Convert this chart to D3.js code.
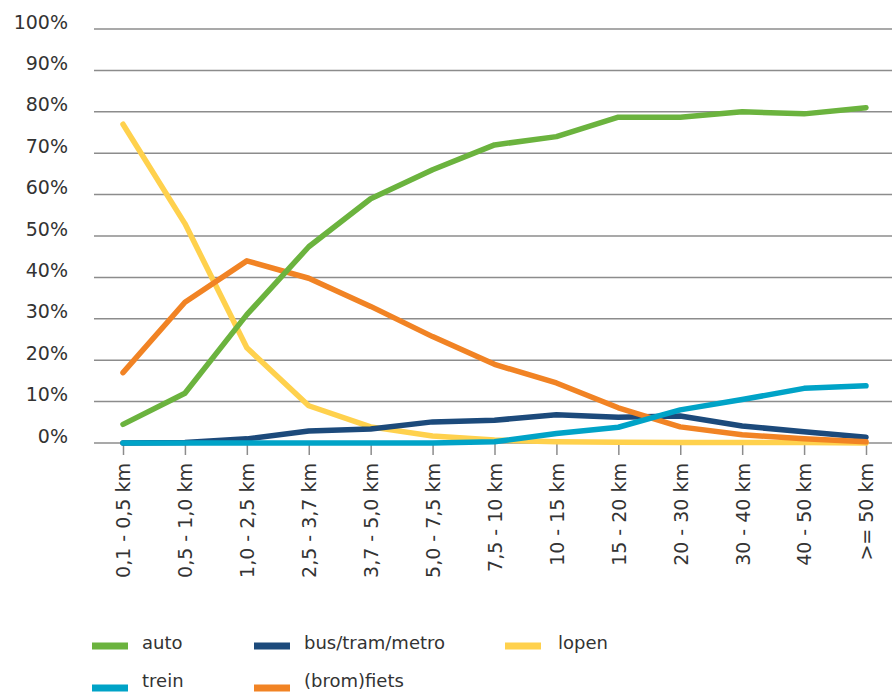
<!DOCTYPE html>
<html><head><meta charset="utf-8">
<script src="https://cdn.jsdelivr.net/npm/d3@7"></script>
<style>
body{margin:0;background:#fff;}
text{font-family:"DejaVu Sans",sans-serif;fill:#333;}
</style></head><body>
<svg id="c" width="892" height="693"></svg>
<script>
const categories = ["0,1 - 0,5 km","0,5 - 1,0 km","1,0 - 2,5 km","2,5 - 3,7 km","3,7 - 5,0 km","5,0 - 7,5 km","7,5 - 10 km","10 - 15 km","15 - 20 km","20 - 30 km","30 - 40 km","40 - 50 km",">= 50 km"];
const auto   = [4.5, 12, 31, 47.4, 59, 66, 72, 74, 78.7, 78.7, 80, 79.5, 81];
const bus    = [0, 0.1, 1, 2.9, 3.4, 5.1, 5.5, 6.8, 6.2, 6.5, 4.1, 2.7, 1.4];
const lopen  = [77, 53, 23, 9, 3.9, 1.7, 0.7, 0.3, 0.2, 0.1, 0.1, 0.1, 0];
const trein  = [0, 0, 0, 0, 0, 0, 0.3, 2.3, 3.8, 8, 10.5, 13.2, 13.8];
const fiets  = [17, 34, 44, 39.8, 33, 25.7, 19, 14.5, 8.5, 3.9, 2, 1, 0.3];
const yTicks = [0,10,20,30,40,50,60,70,80,90,100];

const series = [
  {name:"lopen", values:lopen, color:"#ffd14d"},
  {name:"bus/tram/metro", values:bus, color:"#1c4a7b"},
  {name:"(brom)fiets", values:fiets, color:"#f18324"},
  {name:"trein", values:trein, color:"#00a3c7"},
  {name:"auto", values:auto, color:"#6bb33e"}
];

const svg = d3.select("#c");
const x = d3.scalePoint().domain(categories).range([123, 866]);
const y = d3.scaleLinear().domain([0,100]).range([443, 29]);

// grid
svg.append("g").selectAll("line").data(yTicks).join("line")
  .attr("x1",94).attr("x2",892).attr("y1",d=>y(d)).attr("y2",d=>y(d))
  .attr("stroke","#8c8c8c").attr("stroke-width",1.5);
svg.append("g").selectAll("text").data(yTicks).join("text")
  .attr("x",68).attr("y",d=>y(d)-7).attr("dy","0.35em").attr("text-anchor","end")
  .attr("font-size",19).text(d=>d+"%");

// x axis
const xa = svg.append("g").attr("transform","translate(0,443)")
  .call(d3.axisBottom(x).tickSize(12).tickPadding(8));
xa.select(".domain").remove();
xa.selectAll(".tick line").attr("stroke","#8c8c8c").attr("stroke-width",1.5);
xa.selectAll(".tick text").attr("font-size",19).attr("fill","#333")
  .attr("font-family","'DejaVu Sans',sans-serif")
  .attr("transform","rotate(-90)").attr("text-anchor","end")
  .attr("x",-20).attr("y",0).attr("dy","0.36em");

// lines
const line = d3.line().x((d,i)=>x(categories[i])).y(d=>y(d));
svg.append("g").selectAll("path").data(series).join("path")
  .attr("d",d=>line(d.values)).attr("fill","none")
  .attr("stroke",d=>d.color).attr("stroke-width",5.5)
  .attr("stroke-linecap","round").attr("stroke-linejoin","round");

// legend
const legend = [
  {name:"auto", color:"#6bb33e", x:92, y:646, ty:3},
  {name:"bus/tram/metro", color:"#1c4a7b", x:254, y:646, ty:3},
  {name:"lopen", color:"#ffd14d", x:505, y:646, ty:3},
  {name:"trein", color:"#00a3c7", x:92, y:688, ty:-1},
  {name:"(brom)fiets", color:"#f18324", x:254, y:688, ty:-1}
];
const lg = svg.append("g").selectAll("g").data(legend).join("g")
  .attr("transform",d=>`translate(${d.x},${d.y})`);
lg.append("line").attr("x1",0).attr("x2",36).attr("stroke",d=>d.color).attr("stroke-width",7);
lg.append("text").attr("x",d=>d.x===505?53:50).attr("y",d=>d.ty)
  .attr("font-size",18).text(d=>d.name);
</script></body></html>
